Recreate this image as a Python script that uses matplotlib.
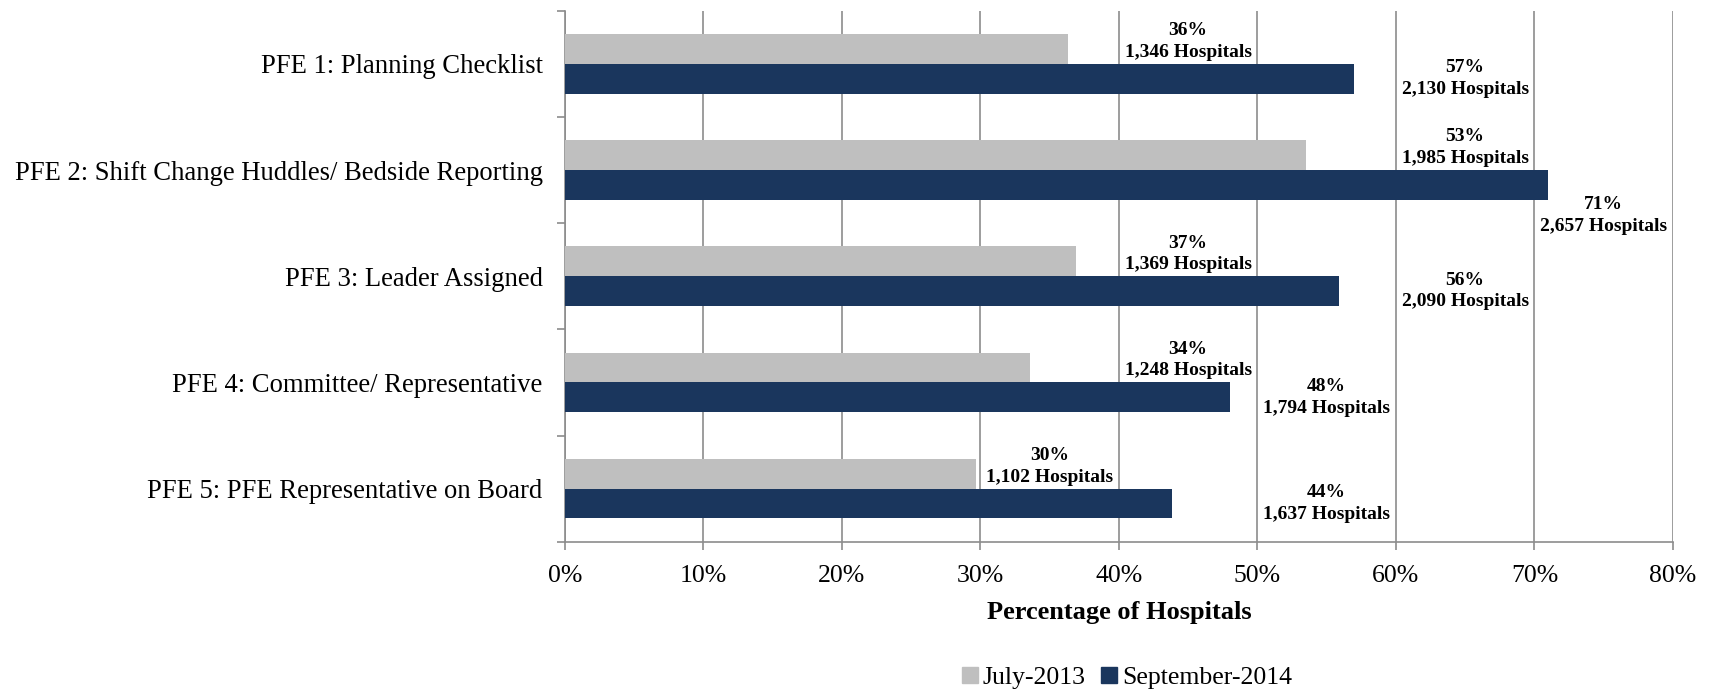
import numpy as np
import matplotlib
matplotlib.use("Agg")
import matplotlib.pyplot as plt
from matplotlib.patches import Patch

plt.rcParams['font.family'] = ['Liberation Serif', 'DejaVu Serif']

# data
categories = [
    "PFE 1: Planning Checklist",
    "PFE 2: Shift Change Huddles/ Bedside Reporting",
    "PFE 3: Leader Assigned",
    "PFE 4: Committee/ Representative",
    "PFE 5: PFE Representative on Board",
]
july_2013 = [36.3, 53.5, 36.9, 33.6, 29.7]
sept_2014 = [57.0, 71.0, 55.9, 48.0, 43.8]
july_label_pct = [36, 53, 37, 34, 30]
sept_label_pct = [57, 71, 56, 48, 44]
july_hosp = [1346, 1985, 1369, 1248, 1102]
sept_hosp = [2130, 2657, 2090, 1794, 1637]
series_names = ["July-2013", "September-2014"]
xticks = [0, 10, 20, 30, 40, 50, 60, 70, 80]

gray = "#BFBFBF"
navy = "#1A365D"
grid_c = "#8C8C8C"

fig = plt.figure(figsize=(17.13, 6.92), dpi=100)
ax = fig.add_axes([0.3298, 0.2172, 0.6468, 0.7673])

y = np.arange(len(categories))
h = 0.28
ax.barh(y - h / 2, july_2013, height=h, color=gray, zorder=3)
ax.barh(y + h / 2, sept_2014, height=h, color=navy, zorder=3)

ax.set_xlim(0, 80)
ax.set_ylim(len(categories) - 0.5, -0.5)


def label_x(v):
    # labels sit in the grid cell after the one holding the bar end
    return min(np.floor(v / 10) * 10 + 15, 75)


for i in range(len(categories)):
    ax.text(label_x(july_2013[i]), y[i] - h / 2 - 0.07,
            f"{july_label_pct[i]}%\n{july_hosp[i]:,} Hospitals",
            ha="center", va="center", fontsize=14, fontweight="bold",
            linespacing=1.35, zorder=4)
    lx = label_x(sept_2014[i])
    dy = 0.29 if sept_2014[i] > lx - 5 else 0.0
    ax.text(lx, y[i] + h / 2 + dy,
            f"{sept_label_pct[i]}%\n{sept_hosp[i]:,} Hospitals",
            ha="center", va="center", fontsize=14, fontweight="bold",
            linespacing=1.35, zorder=4)

# x axis
ax.set_xticks(xticks)
ax.set_xticklabels([f"{t}%" for t in xticks], fontsize=18.5)
ax.tick_params(axis="x", length=5.5, width=1.2, color=grid_c, pad=11)
ax.xaxis.grid(True, color=grid_c, linewidth=1.2, zorder=0)

# y axis: ticks between categories, labels at centres
ax.set_yticks(np.arange(len(categories) + 1) - 0.5)
ax.set_yticklabels([])
ax.tick_params(axis="y", which="major", length=6, width=1.2, color=grid_c)
ax.set_yticks(y, minor=True)
ax.set_yticklabels(categories, minor=True, fontsize=19.2)
ax.tick_params(axis="y", which="minor", length=0, pad=16)

for s in ["top", "right"]:
    ax.spines[s].set_visible(False)
for s in ["left", "bottom"]:
    ax.spines[s].set_color(grid_c)
    ax.spines[s].set_linewidth(1.2)

fig.text(0.6532, 0.1156, "Percentage of Hospitals", ha="center", va="center",
         fontsize=19, fontweight="bold")

handles = [Patch(color=gray), Patch(color=navy)]
fig.legend(handles, series_names, loc="center", bbox_to_anchor=(0.658, 0.02),
           ncol=2, frameon=False, fontsize=18.5, handlelength=0.6,
           handleheight=0.6, handletextpad=0.2, columnspacing=0.6)

fig.savefig("out.png", dpi=100)
